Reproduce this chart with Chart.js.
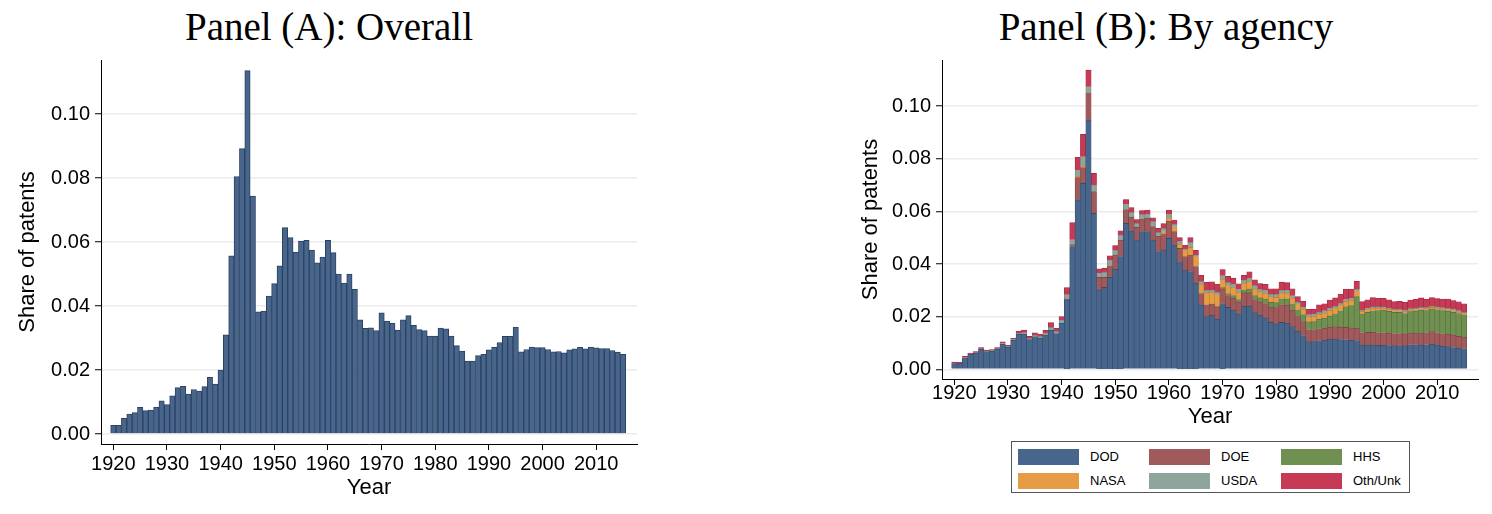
<!DOCTYPE html>
<html>
<head>
<meta charset="utf-8">
<script src="https://cdn.jsdelivr.net/npm/chart.js@4.4.1/dist/chart.umd.min.js"></script>
<style>
    body { margin:0; background:#fff; }
    #page { position:relative; width:1492px; height:514px; overflow:hidden; background:#fff; }
    .panel_title { position:absolute; top:4px; width:600px; text-align:center; font-family:'Liberation Serif', 'Times New Roman', serif; font-size:39px; line-height:46px; color:#000; }
    #wrapA { position:absolute; left:0; top:0; width:660px; height:514px; }
    #wrapB { position:absolute; left:840px; top:0; width:652px; height:430px; }
    #legend { position:absolute; left:1011px; top:441px; width:399px; height:52px; box-sizing:border-box; border:1px solid #555; font-family:'Liberation Sans', Arial, sans-serif; font-size:13px; color:#000; }
    .sw { position:absolute; width:61px; height:16px; }
    .lab { position:absolute; line-height:16px; }
</style>
</head>
<body>
<div id="page">
    <div class="panel_title" style="left:29px">Panel (A): Overall</div>
    <div class="panel_title" style="left:866px">Panel (B): By agency</div>
    <div id="wrapA"><canvas id="graphA" width="660" height="514"></canvas></div>
    <div id="wrapB"><canvas id="graphB" width="652" height="430"></canvas></div>
    <div id="legend"></div>
</div>
<script>
var years = [
    1920, 1921, 1922, 1923, 1924, 1925, 1926, 1927, 1928, 1929,
    1930, 1931, 1932, 1933, 1934, 1935, 1936, 1937, 1938, 1939,
    1940, 1941, 1942, 1943, 1944, 1945, 1946, 1947, 1948, 1949,
    1950, 1951, 1952, 1953, 1954, 1955, 1956, 1957, 1958, 1959,
    1960, 1961, 1962, 1963, 1964, 1965, 1966, 1967, 1968, 1969,
    1970, 1971, 1972, 1973, 1974, 1975, 1976, 1977, 1978, 1979,
    1980, 1981, 1982, 1983, 1984, 1985, 1986, 1987, 1988, 1989,
    1990, 1991, 1992, 1993, 1994, 1995, 1996, 1997, 1998, 1999,
    2000, 2001, 2002, 2003, 2004, 2005, 2006, 2007, 2008, 2009,
    2010, 2011, 2012, 2013, 2014, 2015
];
var x_ticks = [1920, 1930, 1940, 1950, 1960, 1970, 1980, 1990, 2000, 2010];
var y_ticks = [0, 0.02, 0.04, 0.06, 0.08, 0.10];

/* panel A: overall share */
var overall = [
    0.0027, 0.0027, 0.0049, 0.0062, 0.0067, 0.0083, 0.0073, 0.0075, 0.0083, 0.0104,
    0.0092, 0.0119, 0.0145, 0.0149, 0.0125, 0.0139, 0.0134, 0.0148, 0.0177, 0.0156,
    0.0200, 0.0310, 0.0557, 0.0805, 0.0892, 0.1136, 0.0744, 0.0382, 0.0384, 0.0431,
    0.0470, 0.0526, 0.0645, 0.0614, 0.0569, 0.0603, 0.0605, 0.0575, 0.0535, 0.0553,
    0.0605, 0.0567, 0.0500, 0.0472, 0.0500, 0.0452, 0.0357, 0.0330, 0.0332, 0.0323,
    0.0379, 0.0353, 0.0346, 0.0325, 0.0357, 0.0370, 0.0340, 0.0326, 0.0323, 0.0306,
    0.0306, 0.0331, 0.0329, 0.0306, 0.0276, 0.0259, 0.0228, 0.0228, 0.0245, 0.0249,
    0.0263, 0.0271, 0.0286, 0.0305, 0.0305, 0.0334, 0.0257, 0.0264, 0.0272, 0.0270,
    0.0270, 0.0264, 0.0257, 0.0258, 0.0254, 0.0263, 0.0266, 0.0271, 0.0266, 0.0272,
    0.0269, 0.0267, 0.0267, 0.0261, 0.0256, 0.0249
];

/* panel B: by agency */
var dod = [
    0.0022, 0.0023, 0.0044, 0.0057, 0.0061, 0.0076, 0.0066, 0.0069, 0.0076, 0.0095,
    0.0084, 0.0110, 0.0133, 0.0133, 0.0113, 0.0123, 0.0118, 0.0130, 0.0148, 0.0136,
    0.0175, 0.0263, 0.0466, 0.0643, 0.0706, 0.0947, 0.0592, 0.0301, 0.0311, 0.0349,
    0.0380, 0.0428, 0.0554, 0.0525, 0.0491, 0.0523, 0.0523, 0.0491, 0.0447, 0.0453,
    0.0497, 0.0472, 0.0409, 0.0377, 0.0371, 0.0327, 0.0244, 0.0200, 0.0205, 0.0190,
    0.0250, 0.0235, 0.0225, 0.0210, 0.0240, 0.0240, 0.0215, 0.0205, 0.0195, 0.0178,
    0.0172, 0.0178, 0.0175, 0.0162, 0.0145, 0.0128, 0.0105, 0.0105, 0.0108, 0.0110,
    0.0114, 0.0115, 0.0113, 0.0112, 0.0110, 0.0109, 0.0092, 0.0092, 0.0092, 0.0091,
    0.0091, 0.0090, 0.0089, 0.0090, 0.0089, 0.0093, 0.0093, 0.0092, 0.0093, 0.0095,
    0.0092, 0.0088, 0.0086, 0.0083, 0.0080, 0.0078
];
var doe = [
    0, 0, 0, 0, 0, 0, 0, 0, 0, 0,
    0, 0, 0, 0, 0, 0, 0, 0, 0, 0,
    0, 0.0004, 0.0008, 0.0085, 0.0060, 0.0103, 0.0083, 0.0048, 0.0038, 0.0044,
    0.0054, 0.0062, 0.0053, 0.0053, 0.0048, 0.0048, 0.0051, 0.0051, 0.0058, 0.0062,
    0.0065, 0.0051, 0.0050, 0.0051, 0.0063, 0.0063, 0.0044, 0.0045, 0.0043, 0.0048,
    0.0055, 0.0045, 0.0045, 0.0045, 0.0050, 0.0050, 0.0050, 0.0050, 0.0055, 0.0058,
    0.0062, 0.0068, 0.0068, 0.0062, 0.0055, 0.0052, 0.0045, 0.0045, 0.0046, 0.0046,
    0.0046, 0.0046, 0.0047, 0.0047, 0.0047, 0.0047, 0.0047, 0.0048, 0.0048, 0.0048,
    0.0048, 0.0047, 0.0046, 0.0046, 0.0045, 0.0045, 0.0045, 0.0046, 0.0046, 0.0047,
    0.0047, 0.0047, 0.0047, 0.0046, 0.0045, 0.0044
];
var hhs = [
    0, 0, 0, 0, 0, 0, 0, 0, 0, 0,
    0, 0, 0, 0, 0, 0, 0, 0, 0, 0,
    0, 0, 0, 0, 0, 0, 0, 0, 0, 0,
    0, 0, 0, 0, 0, 0, 0, 0, 0, 0,
    0, 0, 0, 0, 0, 0, 0, 0, 0, 0,
    0.0005, 0.0008, 0.0010, 0.0010, 0.0012, 0.0015, 0.0015, 0.0016, 0.0017, 0.0018,
    0.0019, 0.0022, 0.0024, 0.0025, 0.0026, 0.0028, 0.0030, 0.0031, 0.0036, 0.0038,
    0.0042, 0.0050, 0.0062, 0.0078, 0.0085, 0.0120, 0.0071, 0.0076, 0.0082, 0.0084,
    0.0085, 0.0083, 0.0081, 0.0080, 0.0078, 0.0081, 0.0083, 0.0086, 0.0084, 0.0087,
    0.0087, 0.0088, 0.0088, 0.0087, 0.0087, 0.0085
];
var nasa = [
    0, 0, 0, 0, 0, 0, 0, 0, 0, 0,
    0, 0, 0, 0, 0, 0, 0, 0, 0, 0,
    0, 0, 0, 0.0005, 0.0006, 0, 0, 0, 0, 0,
    0, 0, 0, 0, 0, 0, 0, 0, 0, 0.0007,
    0.0013, 0.0018, 0.0016, 0.0023, 0.0029, 0.0038, 0.0035, 0.0045, 0.0043, 0.0045,
    0.0032, 0.0030, 0.0030, 0.0028, 0.0025, 0.0028, 0.0025, 0.0023, 0.0022, 0.0021,
    0.0020, 0.0022, 0.0022, 0.0021, 0.0020, 0.0020, 0.0019, 0.0019, 0.0019, 0.0020,
    0.0022, 0.0022, 0.0022, 0.0021, 0.0020, 0.0022, 0.0010, 0.0010, 0.0010, 0.0009,
    0.0008, 0.0008, 0.0007, 0.0007, 0.0006, 0.0006, 0.0006, 0.0006, 0.0006, 0.0006,
    0.0006, 0.0006, 0.0006, 0.0006, 0.0005, 0.0005
];
var usda = [
    0.0001, 0.0001, 0.0001, 0.0001, 0.0002, 0.0002, 0.0002, 0.0002, 0.0002, 0.0003,
    0.0003, 0.0003, 0.0004, 0.0006, 0.0005, 0.0006, 0.0007, 0.0008, 0.0011, 0.0008,
    0.0012, 0.0016, 0.0018, 0.0022, 0.0035, 0.0023, 0.0025, 0.0015, 0.0020, 0.0020,
    0.0018, 0.0018, 0.0019, 0.0018, 0.0015, 0.0016, 0.0016, 0.0018, 0.0015, 0.0013,
    0.0013, 0.0010, 0.0010, 0.0006, 0.0019, 0.0006, 0.0010, 0.0010, 0.0010, 0.0010,
    0.0013, 0.0012, 0.0012, 0.0010, 0.0012, 0.0012, 0.0012, 0.0010, 0.0010, 0.0010,
    0.0010, 0.0010, 0.0010, 0.0009, 0.0009, 0.0009, 0.0008, 0.0008, 0.0008, 0.0008,
    0.0007, 0.0007, 0.0007, 0.0007, 0.0007, 0.0006, 0.0005, 0.0005, 0.0005, 0.0005,
    0.0005, 0.0005, 0.0005, 0.0005, 0.0005, 0.0005, 0.0005, 0.0005, 0.0005, 0.0005,
    0.0005, 0.0005, 0.0005, 0.0005, 0.0005, 0.0004
];
var oth_unk = [
    0.0004, 0.0003, 0.0004, 0.0004, 0.0004, 0.0005, 0.0005, 0.0004, 0.0005, 0.0006,
    0.0005, 0.0006, 0.0008, 0.0010, 0.0007, 0.0010, 0.0009, 0.0010, 0.0018, 0.0012,
    0.0013, 0.0027, 0.0065, 0.0050, 0.0085, 0.0063, 0.0044, 0.0018, 0.0015, 0.0018,
    0.0018, 0.0018, 0.0019, 0.0018, 0.0015, 0.0016, 0.0015, 0.0015, 0.0015, 0.0018,
    0.0017, 0.0016, 0.0015, 0.0015, 0.0018, 0.0018, 0.0024, 0.0030, 0.0031, 0.0030,
    0.0024, 0.0023, 0.0024, 0.0022, 0.0018, 0.0025, 0.0023, 0.0022, 0.0024, 0.0021,
    0.0023, 0.0031, 0.0030, 0.0027, 0.0021, 0.0022, 0.0021, 0.0020, 0.0028, 0.0027,
    0.0032, 0.0031, 0.0035, 0.0040, 0.0036, 0.0030, 0.0032, 0.0033, 0.0035, 0.0033,
    0.0033, 0.0031, 0.0029, 0.0030, 0.0031, 0.0033, 0.0034, 0.0036, 0.0032, 0.0032,
    0.0032, 0.0033, 0.0035, 0.0034, 0.0034, 0.0033
];

var agency_names = ['DOD', 'DOE', 'HHS', 'NASA', 'USDA', 'Oth/Unk'];
var agency_values = [dod, doe, hhs, nasa, usda, oth_unk];
var agency_fill = ['#48658c', '#a15a5c', '#6f9050', '#e69c44', '#8ea59b', '#c73a55'];
var agency_edge = ['#2f4566', '#7a3f41', '#506a38', '#b9782e', '#6c8178', '#98283e'];

Chart.defaults.font.family = "'Liberation Sans', Arial, Helvetica, sans-serif";
Chart.defaults.color = '#000';

function points(values)
{
    return years.map(function (yr, i) {
        return {x: yr, y: values[i]};
    });
}

function scales_for(y_min, y_max, y_width, x_height, y_title_pad, x_title_pad, x_tick_pad)
{
    return {
        x: {
            type: 'linear', min: 1917.7, max: 2017.6, offset: false, stacked: true,
            afterBuildTicks: function (s) { s.ticks = x_ticks.map(function (v) { return {value: v}; }); },
            afterFit: function (s) { s.height = x_height; },
            grid: {drawOnChartArea: false, drawTicks: true, tickLength: 6, tickColor: '#000', offset: false},
            border: {display: true, color: '#000', width: 1},
            ticks: {autoSkip: false, maxRotation: 0, padding: x_tick_pad, color: '#000', font: {size: 20},
                callback: function (v) { return String(v); }},
            title: {display: true, text: 'Year', color: '#000', font: {size: 22}, padding: {top: 0, bottom: x_title_pad}}
        },
        y: {
            min: y_min, max: y_max, stacked: true,
            afterBuildTicks: function (s) { s.ticks = y_ticks.map(function (v) { return {value: v}; }); },
            afterFit: function (s) { s.width = y_width; },
            grid: {color: '#ebebeb', lineWidth: 1.5, tickColor: '#000', tickLength: 6, tickWidth: 1},
            border: {display: true, color: '#000', width: 1},
            ticks: {padding: 5, color: '#000', font: {size: 20},
                callback: function (v) { return v.toFixed(2); }},
            title: {display: true, text: 'Share of patents', color: '#000', font: {size: 22}, padding: {top: y_title_pad, bottom: 0}}
        }
    };
}

var common_plugins = {legend: {display: false}, tooltip: {enabled: false}, title: {display: false}};

/* Panel A */
new Chart(document.getElementById('graphA'), {
    type: 'bar',
    data: {
        datasets: [{
            label: 'Share of patents',
            data: points(overall),
            backgroundColor: '#48658c',
            borderColor: '#2c4262',
            borderWidth: 1,
            barPercentage: 1,
            categoryPercentage: 1
        }]
    },
    options: {
        responsive: false,
        animation: false,
        layout: {padding: {left: 0, right: 23, top: 60, bottom: 0}},
        scales: scales_for(-0.003125, 0.1169, 101, 70, 15, 13, 2),
        plugins: common_plugins
    }
});

/* Panel B: stacked by agency */
new Chart(document.getElementById('graphB'), {
    type: 'bar',
    data: {
        datasets: agency_names.map(function (name, i) {
            return {
                label: name,
                data: points(agency_values[i]),
                backgroundColor: agency_fill[i],
                borderColor: agency_edge[i],
                borderWidth: 0.6,
                barPercentage: 1,
                categoryPercentage: 1
            };
        })
    },
    options: {
        responsive: false,
        animation: false,
        layout: {padding: {left: 0, right: 14, top: 60, bottom: 0}},
        scales: scales_for(-0.00368, 0.11747, 102, 51, 18, 0, -4),
        plugins: common_plugins
    }
});

/* legend for panel B, 3 columns x 2 rows */
var legend = document.getElementById('legend');
var col_x = [6, 137, 269];
var row_y = [7, 31];
agency_names.forEach(function (name, i) {
    var cx = col_x[i % 3], cy = row_y[Math.floor(i / 3)];
    legend.innerHTML += '<div class="sw" style="left:' + cx + 'px;top:' + cy + 'px;background:' + agency_fill[i] + '"></div>' +
        '<div class="lab" style="left:' + (cx + 72) + 'px;top:' + cy + 'px">' + name + '</div>';
});
</script>
</body>
</html>
